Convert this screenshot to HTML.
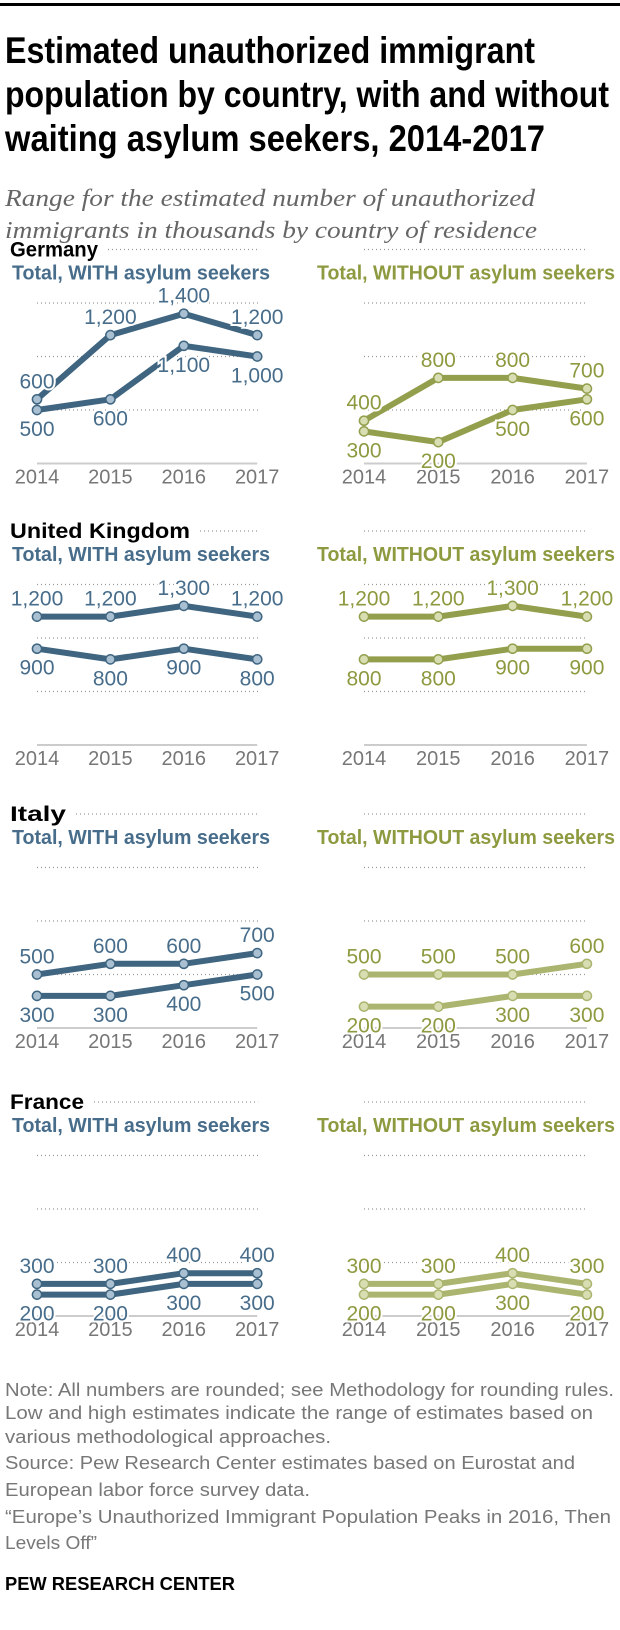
<!DOCTYPE html>
<html><head><meta charset="utf-8"><style>
html,body{margin:0;padding:0;background:#fff;}
svg{display:block;font-family:"Liberation Sans",sans-serif;}
</style></head><body>
<svg id="chart" width="620" height="1630" viewBox="0 0 620 1630" xmlns="http://www.w3.org/2000/svg">
<rect x="0" y="0" width="620" height="1630" fill="#fff"/>
<rect x="0" y="3" width="620" height="3" fill="#000"/>
<g font-weight="bold" font-size="37" fill="#000">
<text x="5" y="63" textLength="530" lengthAdjust="spacingAndGlyphs">Estimated unauthorized immigrant</text>
<text x="5" y="107" textLength="604" lengthAdjust="spacingAndGlyphs">population by country, with and without</text>
<text x="5" y="151" textLength="540" lengthAdjust="spacingAndGlyphs">waiting asylum seekers, 2014-2017</text>
</g>
<g font-family="'Liberation Serif',serif" font-style="italic" font-size="24" fill="#666">
<text x="5" y="206" textLength="530" lengthAdjust="spacingAndGlyphs">Range for the estimated number of unauthorized</text>
<text x="5" y="238" textLength="532" lengthAdjust="spacingAndGlyphs">immigrants in thousands by country of residence</text>
</g>
<g id="panels"></g>
<g font-size="18" fill="#777">
<text x="5" y="1396" textLength="609" lengthAdjust="spacingAndGlyphs">Note: All numbers are rounded; see Methodology for rounding rules.</text>
<text x="5" y="1419" textLength="588" lengthAdjust="spacingAndGlyphs">Low and high estimates indicate the range of estimates based on</text>
<text x="5" y="1443" textLength="326" lengthAdjust="spacingAndGlyphs">various methodological approaches.</text>
<text x="5" y="1469" textLength="570" lengthAdjust="spacingAndGlyphs">Source: Pew Research Center estimates based on Eurostat and</text>
<text x="5" y="1496" textLength="305" lengthAdjust="spacingAndGlyphs">European labor force survey data.</text>
<text x="5" y="1523" textLength="606" lengthAdjust="spacingAndGlyphs">“Europe’s Unauthorized Immigrant Population Peaks in 2016, Then</text>
<text x="5" y="1549" textLength="92" lengthAdjust="spacingAndGlyphs">Levels Off”</text>
</g>
<text x="5" y="1590" font-size="18" font-weight="bold" fill="#000" textLength="230" lengthAdjust="spacingAndGlyphs">PEW RESEARCH CENTER</text>
</svg>
<script>
const years = ["2014","2015","2016","2017"];
const countries = ["Germany","United Kingdom","Italy","France"];
const withHigh = [[600,1200,1400,1200],[1200,1200,1300,1200],[500,600,600,700],[300,300,400,400]];
const withLow = [[500,600,1100,1000],[900,800,900,800],[300,300,400,500],[200,200,300,300]];
const withoutHigh = [[400,800,800,700],[1200,1200,1300,1200],[500,500,500,600],[300,300,400,300]];
const withoutLow = [[300,200,500,600],[800,800,900,900],[200,200,300,300],[200,200,300,200]];
const gridValues = [500,1000,1500,2000];

const NS = "http://www.w3.org/2000/svg";
const root = document.getElementById('panels');
const zeroY = [463.5,745,1028,1316];
const pxPer = 0.107;
const nameW = [88,180,56,74];
function mk(tag, attrs, parent){
  const e = document.createElementNS(NS, tag);
  for (const k in attrs) e.setAttribute(k, attrs[k]);
  parent.appendChild(e); return e;
}
function fmt(v){ return v>=1000 ? Math.floor(v/1000)+","+String(v%1000).padStart(3,"0") : String(v); }

countries.forEach((c, ci) => {
  const y = v => zeroY[ci] - v*pxPer;
  const g = mk('g', {}, root);
  
  
  const ct = mk('text', {x:10, y:y(2000)+7, 'font-size':21, 'font-weight':'bold', fill:'#000', textLength:nameW[ci], lengthAdjust:'spacingAndGlyphs'}, g);
  ct.textContent = c;
  
  
  [0,1].forEach(side => {
    const x0 = side ? 364 : 37, step = side ? 74.3 : 73.4;
    const x = i => x0 + i*step;
    const hi = side ? withoutHigh[ci] : withHigh[ci];
    const lo = side ? withoutLow[ci] : withLow[ci];
    const light = side && ci >= 2;
    const lineC = side ? (light ? '#acb56f' : '#939f4c') : '#3f6580';
    const fillC = side ? '#d9ddb2' : '#a9c0d2';
    const textC = side ? '#8e9a40' : '#476d8b';
    const sg = mk('g', {}, g);
    
    
    gridValues.forEach(v => {
      let xs = x0 - (side?0:0);
      if (!side && v===2000) xs = 10 + nameW[ci] + 10;
      const gl = mk('line', {x1:xs, x2:x0+3*step+1, y1:y(v), y2:y(v), stroke:'#999', 'stroke-width':1.2, 'stroke-dasharray':'1,3'}, sg);
      
      
    });
    const ax = mk('line', {x1:x0, x2:x0+3*step, y1:y(0), y2:y(0), stroke:'#ccc', 'stroke-width':2}, sg);
    
    
    const st = mk('text', {x: side?317:12, y:y(2000)+30, 'font-size':20, 'font-weight':'bold', fill:textC, textLength: side?298:258, lengthAdjust:'spacingAndGlyphs'}, sg);
    st.textContent = side ? 'Total, WITHOUT asylum seekers' : 'Total, WITH asylum seekers';
    
    
    years.forEach((yr, i) => {
      const t = mk('text', {x:x(i), y:y(0)+20, 'font-size':20, fill:'#777', 'text-anchor':'middle'}, sg);
      t.textContent = yr;
      
      
    });
    [[hi,'high'],[lo,'low']].forEach(([arr, kind]) => {
      const l = mk('polyline', {points: arr.map((v,i)=>x(i)+','+y(v)).join(' '), fill:'none', stroke:lineC, 'stroke-width':6, 'stroke-linejoin':'round'}, sg);
      
      
    });
    [[hi,'high',-1],[lo,'low',1]].forEach(([arr, kind, dir]) => {
      arr.forEach((v,i) => {
        const p = mk('circle', {cx:x(i), cy:y(v), r:4.6, fill:fillC, stroke:lineC, 'stroke-width':1.5}, sg);
        
        
        const t = mk('text', {x:x(i), y: y(v) + (dir<0 ? -11 : 26), 'font-size':21, fill:textC, 'text-anchor':'middle', stroke:'#fff', 'stroke-width':4, 'paint-order':'stroke'}, sg);
        t.textContent = fmt(v);
        
        
      });
    });
  });
});
</script>
</body></html>
